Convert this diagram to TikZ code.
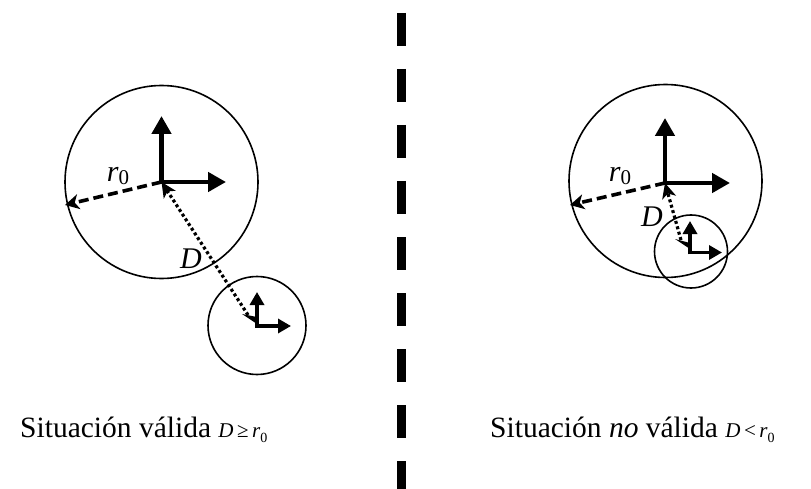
\documentclass[tikz,border=0pt]{standalone}
\usepackage{fontspec}
\setmainfont{Liberation Serif}
\usetikzlibrary{arrows.meta}
\tikzset{
  bigaxis/.style={line width=4.6pt,-{Triangle[length=18pt,width=19pt]}},
  smallaxis/.style={line width=3.8pt,-{Triangle[length=13pt,width=14pt]}},
  circ/.style={line width=1.6pt},
  radius line/.style={line width=3.6pt,dash pattern=on 10pt off 5pt,-{Stealth[length=14pt,width=15pt,inset=4pt]}},
  distline/.style={line width=3.2pt,dash pattern=on 3pt off 2.6pt,-{Stealth[length=15pt,width=14pt,inset=4pt]}},
  lbl/.style={inner sep=0pt,font=\fontsize{30}{30}\selectfont\itshape},
  caption/.style={inner sep=0pt,anchor=base west,font=\fontsize{29.5}{34}\selectfont},
}
\newcommand{\rzero}{\textit{r}\raisebox{-3pt}{\fontsize{21}{21}\selectfont\upshape 0}}
\begin{document}
\begin{tikzpicture}[x=1pt,y=-1pt]
\useasboundingbox (0,0) rectangle (811,489);
% separator
\coordinate (s1) at (401.5,13);
\coordinate (s2) at (401.5,489);
\draw[line width=9pt,dash pattern=on 33pt off 23pt] (s1) -- (s2);

% ---------- left situation ----------
\coordinate (L0) at (161.5,182);
\coordinate (Lup) at (161.5,116);
\coordinate (Lrt) at (226,182);
\coordinate (Lr) at (65,205);
\coordinate (l0) at (257,326);
\coordinate (lup) at (257,292);
\coordinate (lrt) at (291,326);
\coordinate (ld) at (248,315);
\draw[circ] (L0) circle[radius=96.5];
\draw[circ] (257,325.5) circle[radius=49];
\draw[bigaxis] (161.5,184.3) -- (Lup);
\draw[bigaxis] (159.2,182) -- (Lrt);
\draw[radius line] (L0) -- (Lr);
\draw[distline] (ld) -- (L0);
\fill (242,314) -- (257,317) -- (257,324) -- cycle;
\draw[smallaxis] (257,327.9) -- (lup);
\draw[smallaxis] (255.1,326) -- (lrt);
\node[lbl] (Lrlab) at (118,176) {\rzero};
\node[lbl] (LD) at (191,259) {D};

% ---------- right situation ----------
\coordinate (R0) at (665,183);
\coordinate (Rup) at (665,118);
\coordinate (Rrt) at (730,183);
\coordinate (Rr) at (570,205);
\coordinate (r0) at (690,252.5);
\coordinate (rup) at (690,221);
\coordinate (rrt) at (722,252.5);
\coordinate (rd) at (681,240);
\draw[circ] (665.5,181) circle[radius=96.5];
\draw[circ] (691,251.5) circle[radius=36.5];
\draw[bigaxis] (665,185.3) -- (Rup);
\draw[bigaxis] (662.7,183) -- (Rrt);
\draw[radius line] (R0) -- (Rr);
\draw[distline] (rd) -- (R0);
\fill (675,239) -- (690,243) -- (690,249) -- cycle;
\draw[smallaxis] (690,254.4) -- (rup);
\draw[smallaxis] (688.1,252.5) -- (rrt);
\node[lbl] (Rrlab) at (620,176) {\rzero};
\node[lbl] (RD) at (652,217) {D};

% ---------- captions ----------
\node[caption] (capL) at (20,437) {Situación válida {\fontsize{21}{21}\selectfont\textit{D}\,≥\,\textit{r}\raisebox{-5pt}{\fontsize{14}{14}\selectfont 0}}};
\node[caption] (capR) at (490,437) {Situación \textit{no} válida {\fontsize{21}{21}\selectfont\textit{D}\,<\,\textit{r}\raisebox{-5pt}{\fontsize{14}{14}\selectfont 0}}};
\end{tikzpicture}
\end{document}
